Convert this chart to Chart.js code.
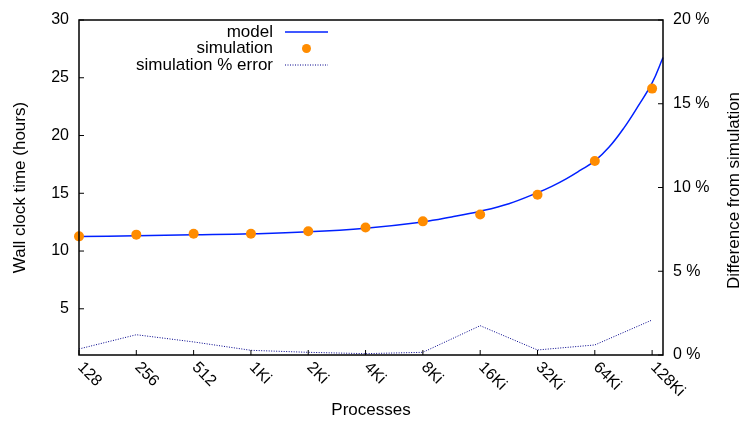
<!DOCTYPE html>
<html>
<head>
<meta charset="utf-8">
<script src="https://cdn.jsdelivr.net/npm/chart.js@4"></script>
<style>
  html, body { margin: 0; padding: 0; background: #fff; }
  #wrap { width: 744px; height: 425px; }
</style>
</head>
<body>
<div id="wrap"><canvas id="chart"></canvas></div>
<script>
// process counts (x = position on the log2 axis)
const categories = ['128', '256', '512', '1Ki', '2Ki', '4Ki', '8Ki', '16Ki', '32Ki', '64Ki', '128Ki'];

// model curve (x in category steps)
const modelX = [0, 1, 2, 3, 4, 5, 6, 6.5, 7, 7.5, 8, 8.25, 8.5, 8.75, 9, 9.25, 9.5, 9.75, 10, 10.19];
const modelY = [11.25, 11.32, 11.40, 11.49, 11.66, 11.98, 12.52, 12.95, 13.45, 14.1, 15.05, 15.6, 16.25, 17.0, 17.8, 19.0, 20.6, 22.5, 24.55, 26.75];

// simulated wall clock time (hours)
const simulation = [11.27, 11.42, 11.5, 11.5, 11.72, 12.03, 12.57, 13.17, 14.88, 17.8, 24.06];

// simulation % error
const errorPct = [0.36, 1.21, 0.78, 0.28, 0.16, 0.08, 0.16, 1.75, 0.3, 0.6, 2.09];

const leftTicks = [5, 10, 15, 20, 25, 30];
const rightTicks = [0, 5, 10, 15, 20];

const FONT = 'Liberation Sans, Arial, sans-serif';

const toXY = (xs, ys) => ys.map((v, i) => ({ x: xs[i], y: v }));
const idx = categories.map((c, i) => i);

// gnuplot-like frame, inward ticks, rotated x labels, right title and legend
const decor = {
  id: 'decor',
  afterDraw(chart) {
    const { ctx, chartArea: a, scales } = chart;
    ctx.save();
    ctx.strokeStyle = '#000';
    ctx.lineWidth = 1.5;
    ctx.strokeRect(a.left, a.top, a.right - a.left, a.bottom - a.top);

    ctx.lineWidth = 1;
    ctx.beginPath();
    idx.forEach(i => {
      const px = scales.x.getPixelForValue(i);
      ctx.moveTo(px, a.bottom); ctx.lineTo(px, a.bottom - 5);
    });
    leftTicks.forEach(v => {
      const py = scales.y.getPixelForValue(v);
      ctx.moveTo(a.left, py); ctx.lineTo(a.left + 5, py);
    });
    rightTicks.forEach(v => {
      const py = scales.y2.getPixelForValue(v);
      ctx.moveTo(a.right, py); ctx.lineTo(a.right - 5, py);
    });
    ctx.stroke();

    ctx.fillStyle = '#000';
    ctx.font = '16px ' + FONT;
    ctx.textAlign = 'left';
    ctx.textBaseline = 'middle';
    categories.forEach((c, i) => {
      const px = scales.x.getPixelForValue(i);
      ctx.save();
      ctx.translate(px + 1, a.bottom + 10);
      ctx.rotate(Math.PI / 4);
      ctx.fillText(c, 0, 0);
      ctx.restore();
    });

    // right axis title, reading upward
    ctx.font = '17px ' + FONT;
    ctx.save();
    ctx.translate(734, (a.top + a.bottom) / 2 + 3);
    ctx.rotate(-Math.PI / 2);
    ctx.textAlign = 'center';
    ctx.fillText('Difference from simulation', 0, 0);
    ctx.restore();

    // legend
    const lx = 273, sx0 = 285, sx1 = 328;
    const rows = [32, 48.5, 65];
    ctx.textAlign = 'right';
    ctx.fillText('model', lx, rows[0]);
    ctx.fillText('simulation', lx, rows[1]);
    ctx.fillText('simulation % error', lx, rows[2]);
    ctx.strokeStyle = '#0020ff';
    ctx.lineWidth = 1.5;
    ctx.beginPath(); ctx.moveTo(sx0, rows[0]); ctx.lineTo(sx1, rows[0]); ctx.stroke();
    ctx.fillStyle = '#ff8c00';
    ctx.beginPath(); ctx.arc((sx0 + sx1) / 2, rows[1], 4.5, 0, Math.PI * 2); ctx.fill();
    ctx.strokeStyle = '#00008b';
    ctx.lineWidth = 1;
    ctx.setLineDash([1, 1.5]);
    ctx.beginPath(); ctx.moveTo(sx0, rows[2]); ctx.lineTo(sx1, rows[2]); ctx.stroke();
    ctx.restore();
  }
};

new Chart(document.getElementById('chart'), {
  type: 'line',
  data: {
    datasets: [
      {
        label: 'model',
        data: toXY(modelX, modelY),
        yAxisID: 'y',
        borderColor: '#0020ff',
        borderWidth: 1.5,
        pointRadius: 0,
        tension: 0.4,
        order: 2
      },
      {
        label: 'simulation',
        data: toXY(idx, simulation),
        yAxisID: 'y',
        showLine: false,
        pointRadius: 5,
        pointBackgroundColor: '#ff8c00',
        pointBorderWidth: 0,
        borderColor: '#ff8c00',
        order: 1
      },
      {
        label: 'simulation % error',
        data: toXY(idx, errorPct),
        yAxisID: 'y2',
        borderColor: '#00008b',
        borderWidth: 1,
        borderDash: [1, 1.5],
        pointRadius: 0,
        order: 3
      }
    ]
  },
  options: {
    responsive: true,
    maintainAspectRatio: false,
    animation: false,
    clip: false,
    layout: { padding: { top: 20, right: 0, left: 0, bottom: 0 } },
    plugins: { legend: { display: false }, tooltip: { enabled: false } },
    scales: {
      x: {
        type: 'linear',
        min: 0,
        max: 10.19,
        afterBuildTicks: s => { s.ticks = idx.map(v => ({ value: v })); },
        afterFit: s => { s.height = 70; },
        grid: { display: false },
        border: { display: false },
        ticks: { display: false },
        title: {
          display: true,
          text: 'Processes',
          color: '#000',
          font: { family: FONT, size: 17 },
          padding: { top: 0, bottom: 4 }
        }
      },
      y: {
        position: 'left',
        min: 1,
        max: 30,
        afterBuildTicks: s => { s.ticks = leftTicks.map(v => ({ value: v })); },
        afterFit: s => { s.width = 79; },
        grid: { display: false, drawTicks: false },
        border: { display: false },
        ticks: { color: '#000', padding: 10, font: { family: FONT, size: 16 } },
        title: {
          display: true,
          text: 'Wall clock time (hours)',
          color: '#000',
          font: { family: FONT, size: 17 },
          padding: { top: 10, bottom: 0 }
        }
      },
      y2: {
        position: 'right',
        min: 0,
        max: 20,
        afterBuildTicks: s => { s.ticks = rightTicks.map(v => ({ value: v })); },
        afterFit: s => { s.width = 81; },
        grid: { display: false, drawTicks: false },
        border: { display: false },
        ticks: {
          color: '#000',
          padding: 10,
          font: { family: FONT, size: 16 },
          callback: v => v + ' %'
        }
      }
    }
  },
  plugins: [decor]
});
</script>
</body>
</html>
